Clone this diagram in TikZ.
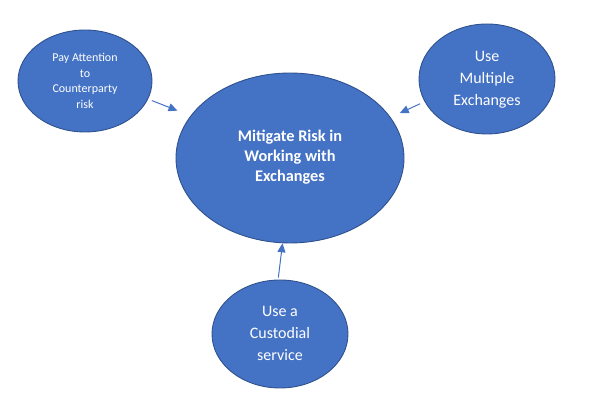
\documentclass[tikz,border=0pt]{standalone}
\usepackage{fontspec}
\setmainfont{Carlito}
\usetikzlibrary{arrows.meta,shapes.geometric}

\begin{document}
\begin{tikzpicture}[x=1pt,y=1pt,
    bubble/.style={ellipse, draw=cEdge, line width=0.9pt, fill=cFill,
      text=white, align=center, inner sep=0pt},
    link/.style={draw=cFill, line width=1pt,
      -{Triangle[length=9pt,width=8pt]}}]

  % Office blue fill, darker rim
  \definecolor{cFill}{RGB}{68,114,196}
  \definecolor{cEdge}{RGB}{47,82,143}

  \useasboundingbox (0,0) rectangle (590,403);

  % ---- centre bubble (text sits a little above the middle) ----
  \node[bubble, minimum width=228, minimum height=170,
        font=\fontsize{16.3}{20}\selectfont\bfseries] (m) at (290,245)
    {\raisebox{8pt}{\begin{tabular}{@{}c@{}}Mitigate Risk in\\Working with\\Exchanges\end{tabular}}};

  % ---- three outer bubbles ----
  \node[bubble, minimum width=134, minimum height=102,
        font=\fontsize{12}{15.5}\selectfont] (att) at (85,322)
    {Pay Attention\\to\\Counterparty\\risk};
  \node[bubble, minimum width=136, minimum height=110,
        font=\fontsize{16}{22}\selectfont] (multi) at (487,324)
    {\raisebox{-3pt}{\begin{tabular}{@{}c@{}}Use\\Multiple\\Exchanges\end{tabular}}};
  \node[bubble, minimum width=136, minimum height=108,
        font=\fontsize{16}{22}\selectfont] (cust) at (280,69)
    {\raisebox{-2pt}{\begin{tabular}{@{}c@{}}Use a\\Custodial\\service\end{tabular}}};

  % ---- arrows into the centre ----
  \draw[link, shorten <=4pt, shorten >=14pt] (att.-16) -- (m.157);
  \draw[link, shorten <=5pt, shorten >=10pt] (multi.200) -- (m.22);
  \draw[link, shorten <=2pt] (cust.92) -- (m.-95);

\end{tikzpicture}
\end{document}
